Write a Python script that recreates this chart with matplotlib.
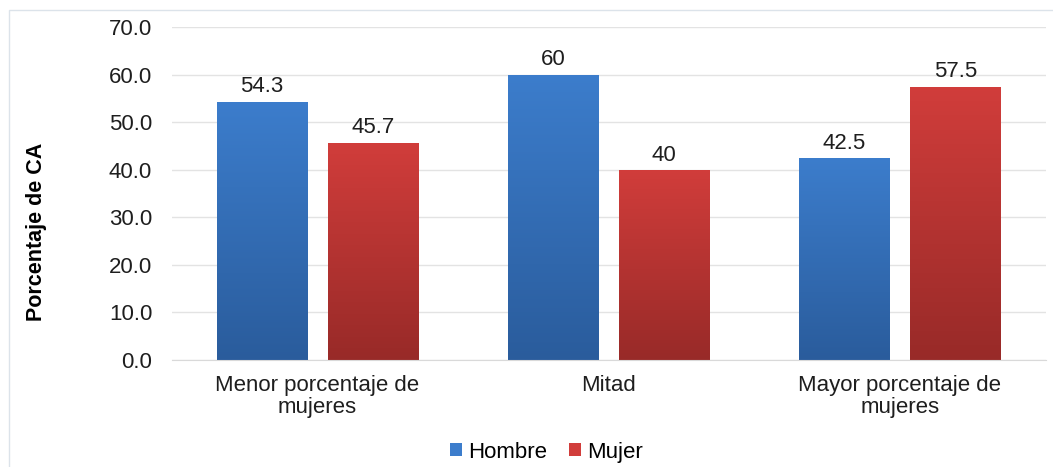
import matplotlib.pyplot as plt
import numpy as np
from matplotlib.colors import LinearSegmentedColormap
from matplotlib.patches import Rectangle

plt.rcParams['font.family'] = ['Liberation Sans', 'DejaVu Sans']

categories = ["Menor porcentaje de\nmujeres", "Mitad", "Mayor porcentaje de\nmujeres"]
series = ["Hombre", "Mujer"]
hombre = [54.3, 60, 42.5]
mujer = [45.7, 40, 57.5]
labels_h = ["54.3", "60", "42.5"]
labels_m = ["45.7", "40", "57.5"]

grad = {
    "Hombre": ("#3C7DCC", "#2A5C9C"),
    "Mujer": ("#D13D3B", "#982A28"),
}

fig = plt.figure(figsize=(10.53, 4.67), dpi=100)
ax = fig.add_axes([0.163, 0.229, 0.83, 0.713])
fig.patches.append(Rectangle((0.009, -0.05), 1.1, 1.029, transform=fig.transFigure,
                             fill=False, edgecolor="#DCE3EA", linewidth=1))

x = np.arange(len(categories))
width = 0.31
offset = 0.19
grad_img = np.linspace(1, 0, 256).reshape(-1, 1)

for vals, labs, name, sign in [(hombre, labels_h, "Hombre", -1), (mujer, labels_m, "Mujer", 1)]:
    top, bottom = grad[name]
    cmap = LinearSegmentedColormap.from_list(name, [bottom, top])
    bars = ax.bar(x + sign * offset, vals, width, color=top, label=name, zorder=2)
    for b, lab in zip(bars, labs):
        x0, w, h = b.get_x(), b.get_width(), b.get_height()
        im = ax.imshow(grad_img, cmap=cmap, aspect="auto", extent=(x0, x0 + w, 0, h),
                       zorder=2.5, vmin=0, vmax=1)
        im.set_clip_path(b)
        ax.text(x0 + w / 2, h + 0.9, lab, ha="center", va="bottom", fontsize=16, color="#1E1E1E")

ax.set_xlim(-0.5, 2.5)
ax.set_ylim(0, 70)
ax.set_yticks(np.arange(0, 71, 10))
ax.set_yticklabels([f"{v:.1f}" for v in np.arange(0, 71, 10)], fontsize=16, color="#1E1E1E")
ax.set_xticks(x)
ax.set_xticklabels(categories, fontsize=16, color="#1E1E1E", linespacing=1.08)
ax.tick_params(axis="y", length=0, pad=14)
ax.tick_params(axis="x", length=0, pad=10.5)
ax.set_ylabel("Porcentaje de CA", fontsize=15.5, fontweight="bold")
ax.yaxis.set_label_coords(-0.1426, 0.385)
ax.grid(axis="y", color="#E3E3E3", linewidth=1)
ax.set_axisbelow(True)
for s in ["top", "right", "left"]:
    ax.spines[s].set_visible(False)
ax.spines["bottom"].set_color("#D9D9D9")

handles, labels = ax.get_legend_handles_labels()
fig.legend(handles, labels, loc="center", bbox_to_anchor=(0.519, 0.032), ncol=2, frameon=False,
           fontsize=16, handlelength=0.55, handleheight=0.55, handletextpad=0.25, columnspacing=1.0)

plt.savefig("out.png", dpi=100)
